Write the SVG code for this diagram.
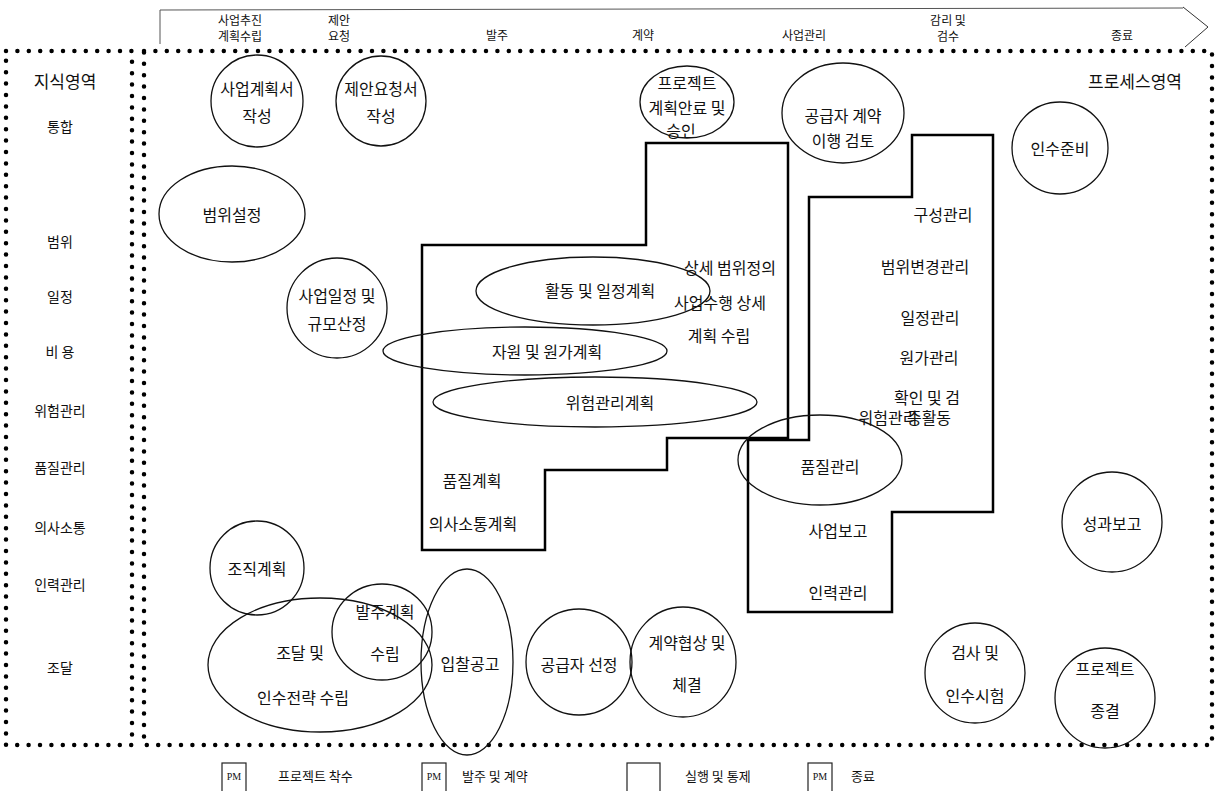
<svg xmlns="http://www.w3.org/2000/svg" width="1222" height="791" viewBox="0 0 1222 791">
<style>
.dot{fill:none;stroke:#000;stroke-width:4.5;stroke-linecap:round;stroke-dasharray:0 11.4}
.sh{fill:none;stroke:#111;stroke-width:1.3}
.poly{fill:none;stroke:#000;stroke-width:2.5}
.t{font-family:"Noto Sans CJK KR","Noto Sans",sans-serif;font-size:16px;fill:#111;text-anchor:middle;dominant-baseline:central}
.k{font-family:"Noto Sans CJK KR","Noto Sans",sans-serif;font-size:14px;fill:#111;text-anchor:middle;dominant-baseline:central}
.h{font-family:"Noto Sans CJK KR","Noto Sans",sans-serif;font-size:12px;fill:#111;text-anchor:middle;dominant-baseline:central}
.pm{font-family:"Liberation Serif",serif;font-size:10px;fill:#111;text-anchor:middle;dominant-baseline:central}
</style>
<rect width="1222" height="791" fill="#fff"/>
<g id="header">
<polyline points="160,44 160,10 1183,8" fill="none" stroke="#555" stroke-width="1"/>
<polyline points="1183,7 1208,27 1185,47" fill="none" stroke="#333" stroke-width="1"/>
<text class="h" x="240" y="19">사업추진</text><text class="h" x="240" y="35">계획수립</text>
<text class="h" x="339" y="19">제안</text><text class="h" x="339" y="35">요청</text>
<text class="h" x="497" y="34">발주</text>
<text class="h" x="643" y="34">계약</text>
<text class="h" x="804" y="34">사업관리</text>
<text class="h" x="948" y="19">감리 및</text><text class="h" x="948" y="35">검수</text>
<text class="h" x="1122" y="34">종료</text>
</g>
<g id="knowledge-area">
<path class="dot" d="M6,51 H132 V745 H6 Z"/>
<text class="k" x="65" y="80" style="font-size:17px">지식영역</text>
<text class="k" x="60" y="126">통합</text>
<text class="k" x="60" y="241">범위</text>
<text class="k" x="60" y="296">일정</text>
<text class="k" x="60" y="351">비 용</text>
<text class="k" x="60" y="410">위험관리</text>
<text class="k" x="60" y="467">품질관리</text>
<text class="k" x="60" y="527">의사소통</text>
<text class="k" x="60" y="584">인력관리</text>
<text class="k" x="60" y="667">조달</text>
</g>
<g id="process-area">
<path class="dot" d="M144,51 H1212 V745 H144 Z"/>
<text class="k" x="1135" y="80" style="font-size:17px">프로세스영역</text>
</g>
<g id="connectors">
<path id="planning-block" class="poly" d="M422,550 V245 H646 V143 H788 V438 H667 V470 H545 V550 Z"/>
<path id="execution-block" class="poly" d="M748,612 V440 H809 V197 H912 V135 H993 V512 H892 V612 Z"/>
</g>
<g id="n-bizplan"><circle class="sh" cx="257" cy="101" r="46"/><text class="t" x="257" y="88">사업계획서</text><text class="t" x="257" y="115">작성</text></g>
<g id="n-rfp"><circle class="sh" cx="381" cy="101" r="45"/><text class="t" x="381" y="88">제안요청서</text><text class="t" x="381" y="115">작성</text></g>
<g id="n-approve"><ellipse class="sh" cx="687" cy="102" rx="47" ry="36"/><text class="t" x="687" y="82">프로젝트</text><text class="t" x="687" y="107">계획안료 및</text><text class="t" x="681" y="130">승인</text></g>
<g id="n-contract-review"><ellipse class="sh" cx="843" cy="113" rx="61" ry="50"/><text class="t" x="843" y="115">공급자 계약</text><text class="t" x="843" y="140">이행 검토</text></g>
<g id="n-accept-prep"><ellipse class="sh" cx="1060" cy="148" rx="48" ry="46"/><text class="t" x="1060" y="148">인수준비</text></g>
<g id="n-scope"><ellipse class="sh" cx="232" cy="214" rx="73" ry="48"/><text class="t" x="232" y="214">범위설정</text></g>
<g id="n-schedule"><circle class="sh" cx="337" cy="308" r="50"/><text class="t" x="337" y="295">사업일정 및</text><text class="t" x="337" y="323">규모산정</text></g>
<g id="n-activity"><ellipse class="sh" cx="593" cy="291" rx="117" ry="34"/><text class="t" x="600" y="290">활동 및 일정계획</text></g>
<g id="n-resource"><ellipse class="sh" cx="525" cy="351" rx="142" ry="24"/><text class="t" x="547" y="351">자원 및 원가계획</text></g>
<g id="n-risk-plan"><ellipse class="sh" cx="595" cy="402" rx="162" ry="25"/><text class="t" x="610" y="402">위험관리계획</text></g>
<g id="n-detail"><text class="t" x="730" y="267">상세 범위정의</text><text class="t" x="720" y="302">사업수행 상세</text><text class="t" x="719" y="335">계획 수립</text></g>
<g id="n-quality-plan"><text class="t" x="472" y="480">품질계획</text></g>
<g id="n-comm-plan"><text class="t" x="473" y="523">의사소통계획</text></g>
<g id="n-config"><text class="t" x="943" y="214">구성관리</text></g>
<g id="n-scope-change"><text class="t" x="925" y="266">범위변경관리</text></g>
<g id="n-schedule-ctl"><text class="t" x="930" y="317">일정관리</text></g>
<g id="n-cost-ctl"><text class="t" x="929" y="357">원가관리</text></g>
<g id="n-verify"><text class="t" x="927" y="397">확인 및 검</text><text class="t" x="929" y="417">증활동</text></g>
<g id="n-risk-ctl"><text class="t" x="888" y="417">위험관리</text></g>
<g id="n-quality-ctl"><ellipse class="sh" cx="820" cy="460" rx="82" ry="45"/><text class="t" x="830" y="466">품질관리</text></g>
<g id="n-report"><text class="t" x="838" y="530">사업보고</text></g>
<g id="n-hr"><text class="t" x="838" y="592">인력관리</text></g>
<g id="n-org"><circle class="sh" cx="257" cy="568" r="47"/><text class="t" x="257" y="568">조직계획</text></g>
<g id="n-procure"><ellipse class="sh" cx="320" cy="665" rx="112" ry="67"/><text class="t" x="300" y="652">조달 및</text><text class="t" x="303" y="697">인수전략 수립</text></g>
<g id="n-order-plan"><ellipse class="sh" cx="382" cy="632" rx="50" ry="48"/><text class="t" x="385" y="611">발주계획</text><text class="t" x="385" y="653">수립</text></g>
<g id="n-bid"><ellipse class="sh" cx="467" cy="662" rx="46" ry="93"/><text class="t" x="470" y="663">입찰공고</text></g>
<g id="n-supplier"><ellipse class="sh" cx="579" cy="662" rx="53" ry="53"/><text class="t" x="579" y="664">공급자 선정</text></g>
<g id="n-negotiate"><ellipse class="sh" cx="683" cy="662" rx="53" ry="55"/><text class="t" x="687" y="642">계약협상 및</text><text class="t" x="687" y="684">체결</text></g>
<g id="n-inspect"><circle class="sh" cx="975" cy="673" r="50"/><text class="t" x="975" y="652">검사 및</text><text class="t" x="975" y="695">인수시험</text></g>
<g id="n-perf"><circle class="sh" cx="1112" cy="522" r="50"/><text class="t" x="1112" y="523">성과보고</text></g>
<g id="n-close"><circle class="sh" cx="1105" cy="698" r="50"/><text class="t" x="1105" y="668">프로젝트</text><text class="t" x="1105" y="710">종결</text></g>
<g id="legend">
<rect x="222" y="763" width="24" height="30" fill="none" stroke="#222" stroke-width="1.2"/><text class="pm" x="234" y="776">PM</text>
<text class="k" x="278" y="775" style="text-anchor:start;font-size:13px">프로젝트 착수</text>
<rect x="422" y="763" width="24" height="30" fill="none" stroke="#222" stroke-width="1.2"/><text class="pm" x="434" y="776">PM</text>
<text class="k" x="462" y="775" style="text-anchor:start;font-size:13px">발주 및 계약</text>
<rect x="627" y="763" width="33" height="30" fill="none" stroke="#222" stroke-width="1.2"/>
<text class="k" x="685" y="775" style="text-anchor:start;font-size:13px">실행 및 통제</text>
<rect x="808" y="763" width="24" height="30" fill="none" stroke="#222" stroke-width="1.2"/><text class="pm" x="820" y="776">PM</text>
<text class="k" x="851" y="775" style="text-anchor:start;font-size:13px">종료</text>
</g>
</svg>
